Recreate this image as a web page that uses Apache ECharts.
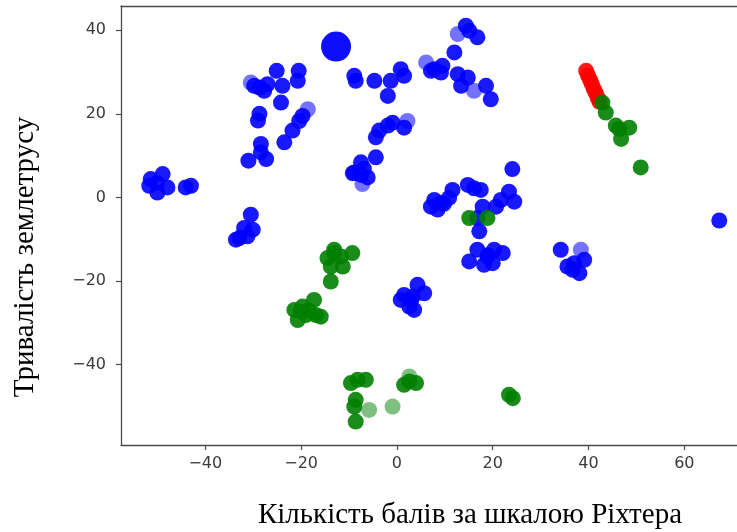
<!DOCTYPE html>
<html>
<head>
<meta charset="utf-8">
<script src="https://cdn.jsdelivr.net/npm/echarts@6/dist/echarts.min.js"></script>
<style>
  html, body { margin: 0; padding: 0; background: #fff; }
  #main { width: 737px; height: 532px; }
</style>
</head>
<body>
<div id="main"></div>
<script>
// tick labels
var xTicks = [-40, -20, 0, 20, 40, 60];
var yTicks = [-40, -20, 0, 20, 40];

// blue points [x, y]
var bluePoints = [
  [-51.4,4.4],[-48.9,5.6],[-50.0,1.2],[-47.9,2.4],[-51.7,2.8],[-50.1,3.5],[-44.1,2.4],[-43.0,2.8],
  [-28.7,26.3],[-29.8,26.7],[-27.7,25.5],[-27.0,27.1],[-25.1,30.3],[-23.9,26.7],[-24.2,22.7],
  [-20.5,30.3],[-20.7,27.9],[-28.7,20.0],[-29.0,18.4],[-19.7,19.5],[-20.4,18.3],[-21.8,16.0],
  [-23.5,13.2],[-28.4,12.8],[-31.0,8.8],[-27.3,9.2],[-28.4,10.8],
  [-30.5,-4.1],[-31.9,-7.3],[-32.9,-9.7],[-30.1,-7.7],[-31.2,-9.3],[-33.6,-10.1],
  [-8.9,29.1],[-8.6,27.9],[-4.7,27.9],[0.8,30.7],[1.5,29.1],[-1.3,27.9],[-1.9,24.3],
  [-1.9,17.2],[-3.7,16.0],[-4.4,14.4],[-0.9,17.9],[1.5,16.7],
  [-7.5,8.4],[-8.9,6.0],[-4.4,9.6],[-6.1,4.8],[-6.9,6.9],[-7.5,5.4],[-9.2,5.8],
  [14.4,41.1],[15.1,39.9],[16.8,38.3],[12.0,34.7],[7.8,30.7],[9.5,31.5],[7.1,30.3],[9.2,29.9],
  [12.7,29.5],[14.8,28.7],[13.4,26.7],[18.6,26.7],[19.6,23.5],
  [9.2,-1.3],[7.8,-0.6],[10.9,-0.1],[8.5,-2.9],[11.6,1.8],[7.1,-2.2],[9.8,-1.5],[14.8,3.0],[17.5,1.8],
  [16.1,2.2],[17.9,-2.2],[16.8,-4.9],[17.2,-8.1],[21.7,-0.6],[23.4,1.4],[24.5,-1.0],[20.7,-2.2],[24.1,6.8],
  [18.9,-14.1],[16.8,-12.5],[20.3,-12.5],[22.1,-13.3],[15.1,-15.3],[18.2,-16.1],[20.0,-15.7],[19.0,-13.8],
  [3.3,-23.7],[1.5,-23.3],[4.3,-20.9],[5.7,-22.9],[2.6,-26.1],[0.8,-24.5],[3.6,-26.9],[3.0,-24.5],
  [34.2,-12.5],[35.6,-16.5],[37.0,-15.7],[39.1,-14.9],[38.1,-18.1],[36.7,-17.3],
  [67.3,-5.5]
];
var blueFaint = [[-18.6,21.1],[-30.5,27.5],[2.2,18.3],[-7.2,3.2],[12.7,39.1],[6.1,32.3],[16.1,25.5],[38.4,-12.5]];
var blueBig = [[-12.7,36.1]];

// green points
var greenPoints = [
  [-20.0,-27.3],[-21.4,-26.9],[-19.0,-28.1],[-17.3,-24.5],[-16.9,-28.1],[-20.7,-29.3],[-19.7,-26.1],[-15.9,-28.5],[-18.5,-27.0],
  [-13.1,-13.3],[-14.5,-14.5],[-11.7,-14.1],[-9.3,-13.3],[-13.8,-16.5],[-11.3,-16.5],[-13.8,-20.1],[-13.1,-12.5],
  [-8.2,-43.6],[-6.5,-43.6],[-9.6,-44.4],[-8.6,-48.4],[-8.9,-50.0],[-8.6,-53.6],
  [2.6,-44.0],[4.0,-44.4],[1.5,-44.8],[23.4,-47.2],[24.2,-48.0],
  [15.1,-4.9],[18.9,-4.9],
  [42.9,22.7],[43.6,20.3],[46.4,16.4],[48.5,16.7],[46.8,14.0],[45.7,17.2],[50.9,7.2]
];
var greenFaint = [[-5.8,-50.8],[-0.9,-50.0],[2.6,-42.8]];

// red points
var redPoints = [[39.5,30.3],[39.9,29.2],[40.3,28.2],[40.7,27.1],[41.1,26.0],[41.5,25.0],[41.9,23.9],[42.3,22.9]];

var chart = echarts.init(document.getElementById('main'));

function fmt(v) { return String(v).replace('-', '\u2212'); }

function sc(data, color, size, op) {
  return {
    type: 'scatter',
    data: data,
    symbolSize: size,
    itemStyle: { color: color, opacity: op },
    silent: true
  };
}

var frame = { show: true, onZero: false, lineStyle: { color: '#4a4a4a', width: 1.3 } };
var tickStyle = { color: '#4a4a4a', width: 1.2 };
var axisFont = { fontFamily: 'DejaVu Sans', fontSize: 16, color: '#3a3a3a' };

var option = {
  animation: false,
  grid: { left: 121, top: 6, right: 0, bottom: 87 },
  xAxis: [{
    type: 'value', min: -57.6, max: 71,
    axisLine: frame,
    splitLine: { show: false },
    axisTick: { show: true, length: 5, customValues: xTicks, lineStyle: tickStyle },
    axisLabel: Object.assign({ margin: 11, customValues: xTicks, formatter: fmt }, axisFont)
  }, {
    // top edge of the frame
    type: 'value', position: 'top', min: -57.6, max: 71,
    axisLine: frame,
    axisTick: { show: false }, axisLabel: { show: false }, splitLine: { show: false }
  }],
  yAxis: {
    type: 'value', min: -59.2, max: 45.8,
    axisLine: frame,
    splitLine: { show: false },
    axisTick: { show: true, length: 5, customValues: yTicks, lineStyle: tickStyle },
    axisLabel: Object.assign({ margin: 15, customValues: yTicks, formatter: fmt }, axisFont)
  },
  graphic: [
    {
      type: 'text', x: 25, y: 257, rotation: Math.PI / 2,
      style: {
        text: 'Тривалість землетрусу', fill: '#000',
        font: '29px "Liberation Serif", "DejaVu Serif", serif',
        align: 'center', verticalAlign: 'middle'
      }
    },
    {
      type: 'text', x: 470, y: 515,
      style: {
        text: 'Кількість балів за шкалою Ріхтера', fill: '#000',
        font: '29px "Liberation Serif", "DejaVu Serif", serif',
        align: 'center', verticalAlign: 'middle'
      }
    }
  ],
  series: [
    sc(bluePoints, '#0000ff', 16, 0.9),
    sc(blueFaint, '#0000ff', 16, 0.55),
    sc(blueBig, '#0000ff', 30, 0.95),
    sc(redPoints, '#ff0000', 16, 0.9),
    sc(greenPoints, '#008000', 16, 0.9),
    sc(greenFaint, '#008000', 16, 0.5)
  ]
};
chart.setOption(option);
</script>
</body>
</html>
